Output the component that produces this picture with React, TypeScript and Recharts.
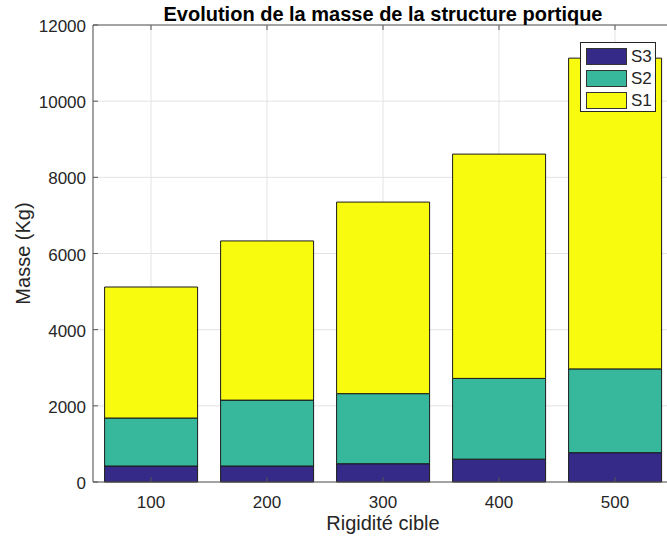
import { BarChart, Bar, XAxis, YAxis, CartesianGrid, Legend, ReferenceLine } from "recharts"

const categories = ["100", "200", "300", "400", "500"]
const s3Values = [420, 420, 480, 600, 770]
const s2Values = [1260, 1730, 1840, 2120, 2200]
const s1Values = [3440, 4180, 5030, 5890, 8160]
const yTicks = [0, 2000, 4000, 6000, 8000, 10000, 12000]

const seriesNames = ["S3", "S2", "S1"]
const seriesColors = ["#352a87", "#37b89d", "#f9fb0e"]

const data = categories.map((c, i) => ({
  rigidite: c,
  S3: s3Values[i],
  S2: s2Values[i],
  S1: s1Values[i],
}))

const FONT = "'Liberation Sans', Arial, Helvetica, sans-serif"
const TEXT = "#262626"
const AXIS = "#555555"
const PLOT_TOP = 25

function XTick(props: any) {
  const { x, y, payload } = props
  return (
    <g>
      <line x1={x} x2={x} y1={y} y2={y - 5} stroke={AXIS} />
      <line x1={x} x2={x} y1={PLOT_TOP} y2={PLOT_TOP + 5} stroke={AXIS} />
      <text x={x} y={y + 26} textAnchor="middle" fontSize={17} fill={TEXT} fontFamily={FONT}>
        {payload.value}
      </text>
    </g>
  )
}

function YTick(props: any) {
  const { x, y, payload } = props
  return (
    <g>
      <line x1={x} x2={x + 5} y1={y} y2={y} stroke={AXIS} />
      <text x={x - 7} y={y + 7} textAnchor="end" fontSize={17} fill={TEXT} fontFamily={FONT}>
        {payload.value}
      </text>
    </g>
  )
}

function YLabel(props: any) {
  const vb = props.viewBox || { x: 0, y: 25, width: 93, height: 457 }
  const cx = vb.x + 30
  const cy = vb.y + vb.height / 2
  return (
    <text
      x={cx}
      y={cy}
      transform={`rotate(-90, ${cx}, ${cy})`}
      textAnchor="middle"
      fontSize={20}
      fill={TEXT}
      fontFamily={FONT}
    >
      Masse (Kg)
    </text>
  )
}

function XLabel(props: any) {
  const vb = props.viewBox || { x: 93, y: 482, width: 580, height: 59 }
  return (
    <text
      x={vb.x + vb.width / 2}
      y={vb.y + 48}
      textAnchor="middle"
      fontSize={20}
      fill={TEXT}
      fontFamily={FONT}
    >
      Rigidité cible
    </text>
  )
}

function LegendBox() {
  return (
    <div
      style={{
        width: 76,
        height: 70,
        boxSizing: "border-box",
        border: "1px solid #262626",
        background: "#fff",
        position: "relative",
        fontFamily: FONT,
      }}
    >
      {seriesNames.map((name, i) => (
        <div key={name} style={{ position: "absolute", left: 5, top: 4.5 + i * 22.2, height: 17, display: "flex", alignItems: "center" }}>
          <div
            style={{
              width: 41,
              height: 17,
              boxSizing: "border-box",
              background: seriesColors[i],
              border: "1px solid #333",
            }}
          />
          <span style={{ marginLeft: 4, fontSize: 17, color: TEXT, lineHeight: "17px" }}>{name}</span>
        </div>
      ))}
    </div>
  )
}

export default function App() {
  return (
    <div
      style={{
        position: "fixed",
        left: 0,
        top: 0,
        width: 667,
        height: 541,
        overflow: "hidden",
        background: "#fff",
      }}
    >
      <BarChart
        width={690}
        height={541}
        data={data}
        margin={{ top: PLOT_TOP, right: 17, bottom: 0, left: 0 }}
        barCategoryGap="10%"
      >
        <CartesianGrid stroke="#e3e3e3" />
        {seriesNames.map((name, i) => (
          <Bar
            key={name}
            dataKey={name}
            stackId="a"
            fill={seriesColors[i]}
            stroke="#1a1a1a"
            strokeWidth={1}
            isAnimationActive={false}
          />
        ))}
        <ReferenceLine
          y={12000}
          stroke={AXIS}
          label={{
            value: "Evolution de la masse de la structure portique",
            position: "top",
            offset: 4,
            fontSize: 20,
            fontWeight: "bold",
            fill: "#000",
            fontFamily: FONT,
          }}
        />
        <XAxis
          dataKey="rigidite"
          height={59}
          tickSize={0}
          tickMargin={0}
          tickLine={false}
          axisLine={{ stroke: AXIS }}
          tick={<XTick />}
          label={<XLabel />}
          interval={0}
        />
        <YAxis
          type="number"
          domain={[0, 12000]}
          ticks={yTicks}
          width={93}
          tickSize={0}
          tickMargin={0}
          tickLine={false}
          axisLine={{ stroke: AXIS }}
          tick={<YTick />}
          label={<YLabel />}
          interval={0}
        />
        <Legend
          layout="vertical"
          align="center"
          verticalAlign="middle"
          wrapperStyle={{ left: 580, top: 42, width: 76, height: 70 }}
          content={<LegendBox />}
        />
      </BarChart>
    </div>
  )
}
